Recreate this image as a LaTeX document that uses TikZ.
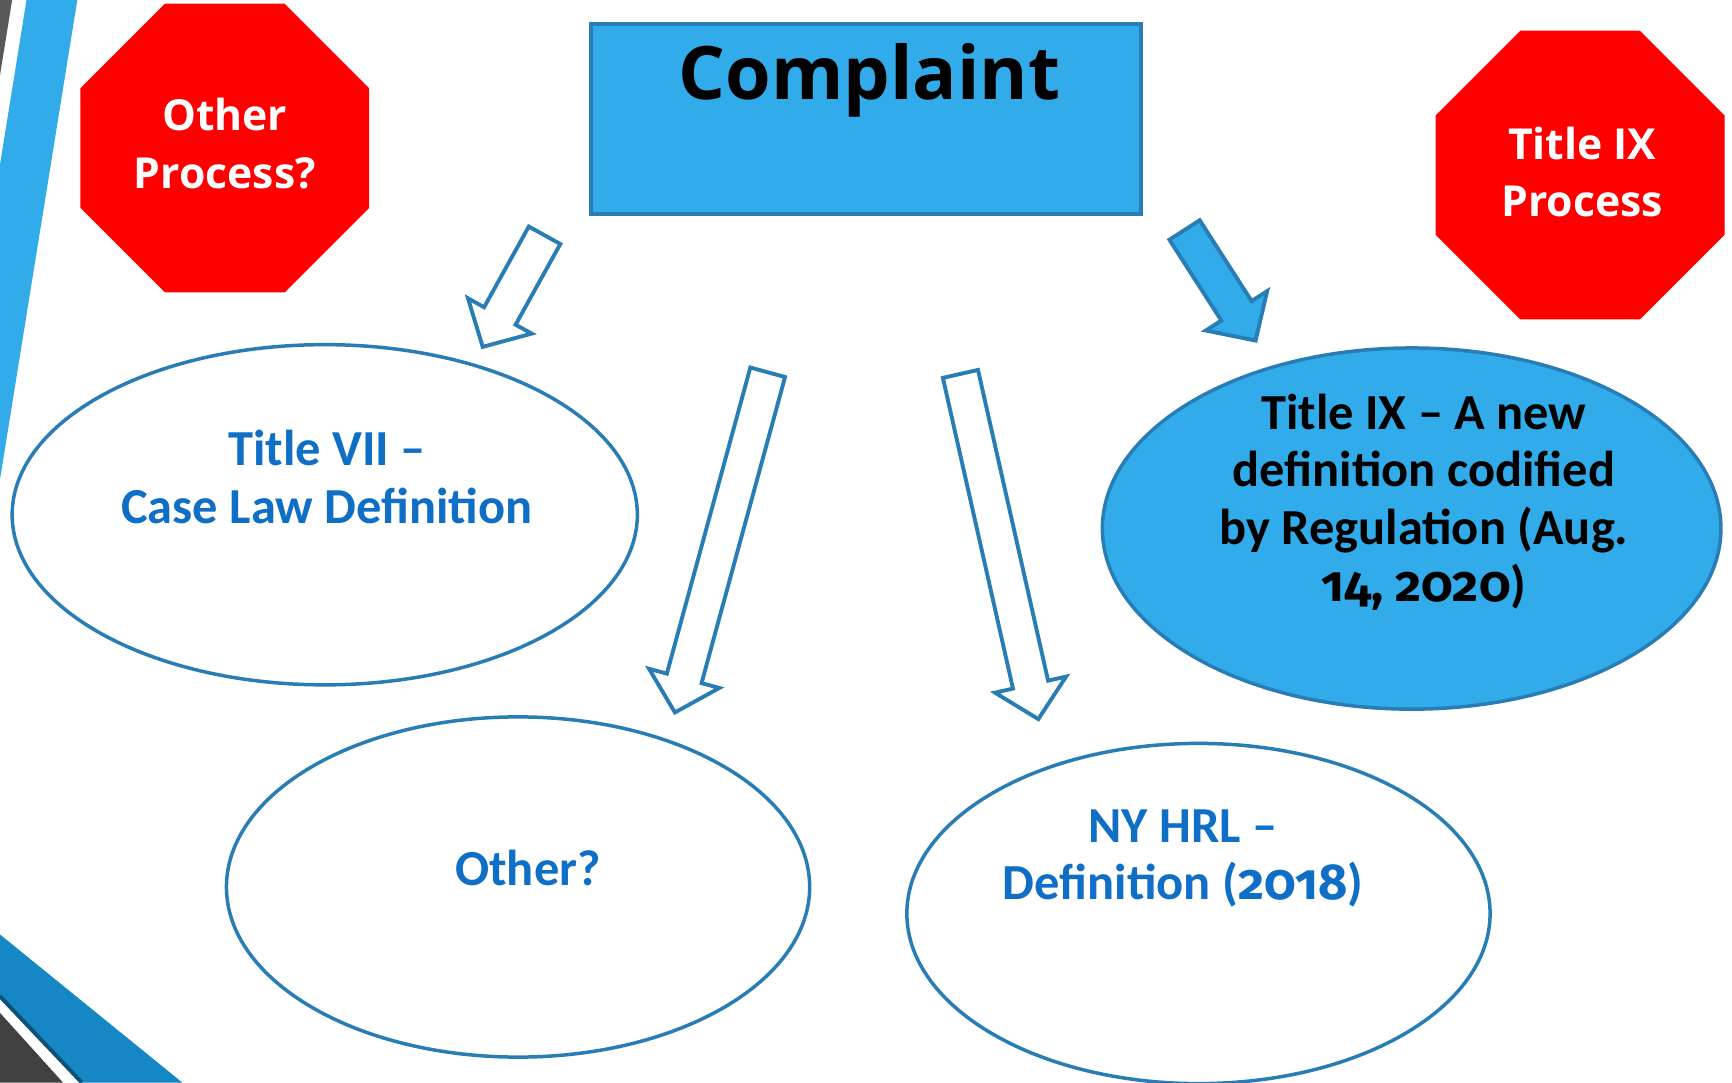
\documentclass[tikz,border=0pt]{standalone}
\usepackage{fontspec}
\setmainfont{Carlito}
\newfontfamily\segoe{Open Sans}
\newfontfamily\oldnum{Fira Sans}[Numbers=OldStyle]
\usetikzlibrary{calc,shapes.geometric}
\definecolor{skyblue}{RGB}{49,171,234}
\definecolor{edgeblue}{RGB}{41,125,181}
\definecolor{textblue}{RGB}{15,111,198}
\definecolor{deepblue}{RGB}{20,135,196}
\definecolor{stopred}{RGB}{255,0,0}
\def\blockarrow[#1](#2)(#3){\coordinate (hb) at ($(#3)!3.2mm!(#2)$);
  \draw[#1] ($(#2)!1.63mm!90:(#3)$) -- ($(hb)!1.63mm!90:(#3)$) -- ($(hb)!3.3mm!90:(#3)$) -- (#3)
    -- ($(hb)!3.3mm!-90:(#3)$) -- ($(hb)!1.63mm!-90:(#3)$) -- ($(#2)!1.63mm!-90:(#3)$) -- cycle;}

\begin{document}
\begin{tikzpicture}[x=0.1mm,y=-0.1mm,
		oval/.style={draw=edgeblue,line width=0.9pt,ellipse,inner sep=0pt},
		stopsign/.style={regular polygon,regular polygon sides=8,fill=stopred,minimum size=28.3mm,inner sep=0pt},
		stoptext/.style={text=white,align=center,font=\segoe\bfseries\fontsize{11}{14.8}\selectfont},
		deftext/.style={text=textblue,align=center,font=\bfseries\fontsize{13}{14.8}\selectfont},
		hollow/.style={draw=edgeblue,fill=white,line width=1pt,line join=miter},
		solid/.style={draw=edgeblue,fill=skyblue,line width=1pt,line join=miter}]
				\useasboundingbox (0,0) rectangle (1568,980);
				
				% corner stripes
				\fill[black!65] (0,0) -- (11,0) -- (0,68) -- cycle;
				\fill[skyblue] (24,0) -- (70,0) -- (0,434) -- (0,149) -- cycle;
				\fill[deepblue] (0,846) -- (165,980) -- (74,980) -- (0,902) -- cycle;
				\draw[deepblue!60!black,line width=1pt] (0,902) -- (74,980);
				\fill[black!75] (0,917) -- (57,980) -- (0,980) -- cycle;
				
				\node[draw=edgeblue,fill=skyblue,line width=1pt,minimum width=49.8mm,minimum height=17.2mm] (cmpl) at (784,108) {};
				\node[anchor=base,font=\segoe\bfseries\fontsize{19}{24}\selectfont] at ($(cmpl.north)+(3,70)$) {Complaint};
				
				\node[stopsign] (othp) at (203.5,134) {};
				\node[stoptext] at ($(othp)+(0,-4)$) {Other\\Process?};
				\node[stopsign] (tixp) at (1430.5,158.5) {};
				\node[stoptext] at ($(tixp)+(2,-3)$) {Title IX\\Process};
				
				\node[oval,minimum width=56.6mm,minimum height=30.8mm] (tvii) at (294,466) {};
				\node[deftext] at ($(tvii)+(2,-34)$) {Title VII --\\Case Law Definition};
				
				\node[oval,minimum width=52.8mm,minimum height=30.8mm] (othr) at (469,803) {};
				\node[deftext] at ($(othr)+(9,-17)$) {Other?};
				
				\node[oval,minimum width=52.8mm,minimum height=30.8mm] (nyhrl) at (1085,827) {};
				\node[deftext] at ($(nyhrl)+(-14,-50)$) {NY HRL --\\Definition ({\oldnum 2018})};
				
				\node[oval,fill=skyblue,minimum width=56mm,minimum height=32.7mm] (tix) at (1278,478.5) {};
				\node[deftext,text=black] at ($(tix)+(11,-24)$) {Title IX -- A new\\definition codified\\by Regulation (Aug.\\{\oldnum 14, 2020})};
				
				\coordinate (a1s) at (493,213);
				\coordinate (a1e) at (437,314);
				\coordinate (a2s) at (695,337);
				\coordinate (a2e) at (611,645);
				\coordinate (a3s) at (869.5,338.5);
				\coordinate (a3e) at (940,651);
				\coordinate (a4s) at (1072.4,208.2);
				\coordinate (a4e) at (1136.7,308.3);
				\blockarrow[hollow](a1s)(a1e);
				\blockarrow[hollow](a2s)(a2e);
				\blockarrow[hollow](a3s)(a3e);
				\blockarrow[solid](a4s)(a4e);
			\end{tikzpicture}
\end{document}
